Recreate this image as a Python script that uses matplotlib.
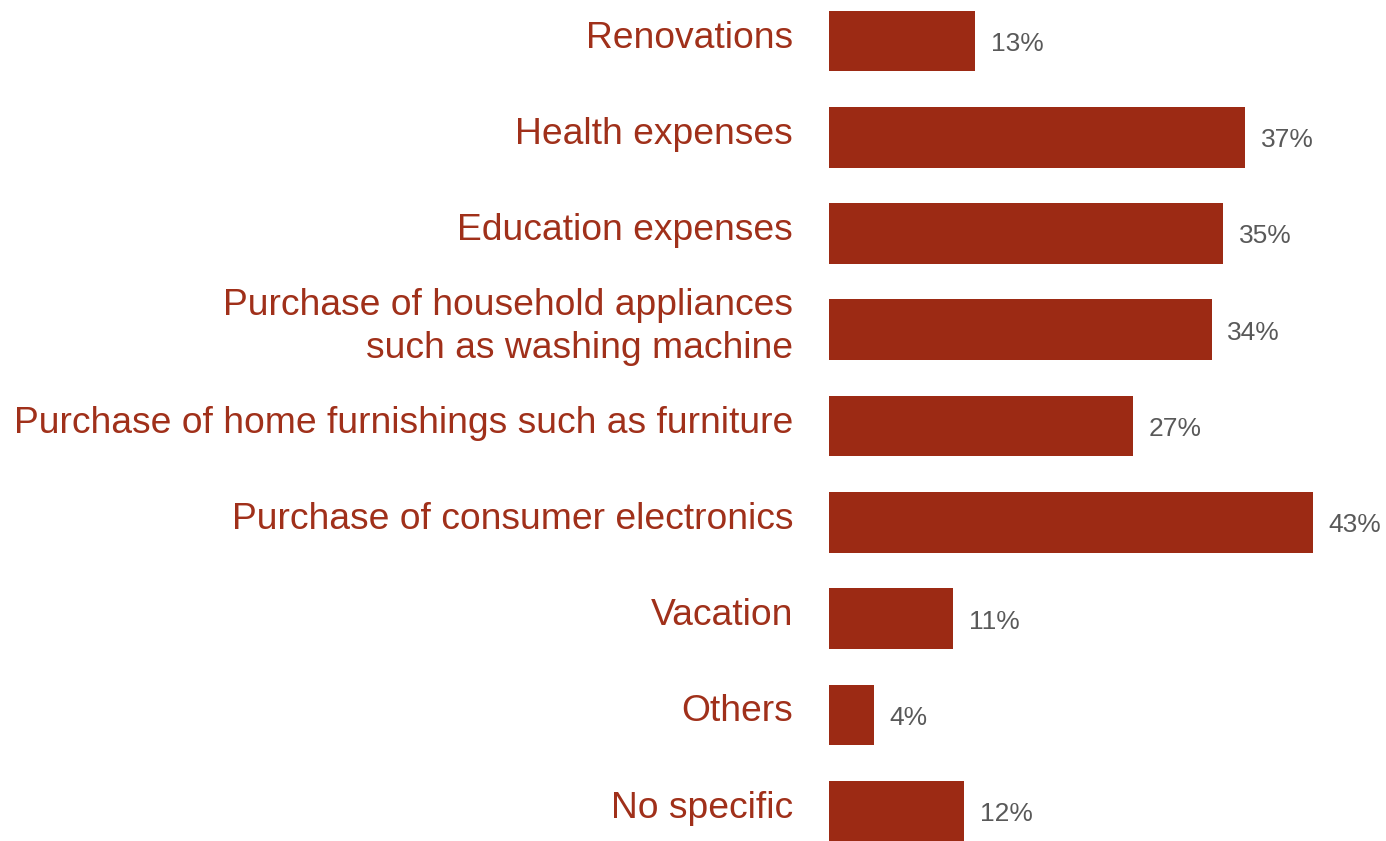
import matplotlib.pyplot as plt

categories = ['Renovations', 'Health expenses', 'Education expenses',
              'Purchase of household appliances\nsuch as washing machine',
              'Purchase of home furnishings such as furniture',
              'Purchase of consumer electronics', 'Vacation', 'Others',
              'No specific']
values = [13, 37, 35, 34, 27, 43, 11, 4, 12]

bar_color = '#9C2A14'
text_color = '#A0301A'
value_color = '#595959'

plt.rcParams['font.family'] = ['Liberation Sans', 'DejaVu Sans']

fig = plt.figure(figsize=(13.86, 8.41), dpi=100)
ax = fig.add_axes([829 / 1386, 0, 1 - 829 / 1386, 1])

y = list(range(len(values)))
ax.barh(y, values, height=0.63, color=bar_color)

for yi, v in zip(y, values):
    ax.text(v + 1.4, yi + 0.03, f'{v}%', va='center', ha='left',
            fontsize=19, color=value_color)

for yi, cat in zip(y, categories):
    ax.annotate(cat, xy=(0, yi), xycoords=('axes fraction', 'data'),
                xytext=(-36, 3), textcoords='offset pixels',
                ha='right', va='center', fontsize=26.8, color=text_color,
                linespacing=1.3)

ax.set_xlim(0, 49.5)
ax.set_ylim(8.31, -0.426)
ax.axis('off')

fig.savefig('out.png', dpi=100)
